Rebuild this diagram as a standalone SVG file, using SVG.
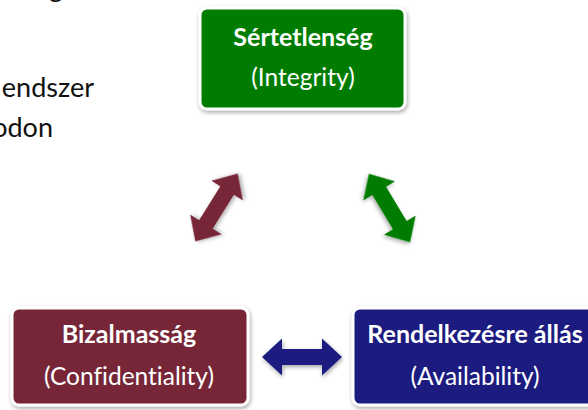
<svg xmlns="http://www.w3.org/2000/svg" width="588" height="410" viewBox="0 0 588 410">
  <defs>
    <filter id="shadow" x="-20%" y="-20%" width="140%" height="150%">
      <feDropShadow dx="1" dy="2" stdDeviation="2" flood-color="#000" flood-opacity="0.35"/>
    </filter>
    <path id="dblarrow" d="M-40,0 L-20,-18.5 L-20,-8 L20,-8 L20,-18.5 L40,0 L20,18.5 L20,8 L-20,8 L-20,18.5 Z"/>
    <style>
      text { font-variant-ligatures: none; font-family: Lato, "Open Sans", sans-serif; }
      .box { stroke: #ffffff; stroke-width: 3; filter: url(#shadow); }
      .title { font-weight: bold; font-size: 25px; fill: #ffffff; text-anchor: middle; }
      .sub { font-size: 24.5px; fill: #ffffff; text-anchor: middle; }
      .body { font-size: 27px; fill: #111111; text-anchor: end; }
      .arrow { filter: url(#shadow); }
    </style>
  </defs>
  <rect width="588" height="410" fill="#ffffff"/>

  <g id="slide-text">
    <text class="body" x="63" y="-3">g</text>
    <text class="body" x="94" y="97">endszer</text>
    <text class="body" x="53" y="137">odon</text>
  </g>

  <g id="connectors">
    <use href="#dblarrow" class="arrow" fill="#772539" transform="translate(216.5,207.5) rotate(-58)"/>
    <use href="#dblarrow" class="arrow" fill="#007d00" transform="translate(389.5,208) rotate(59)"/>
    <use href="#dblarrow" class="arrow" fill="#1a1f80" transform="translate(302,357)"/>
  </g>

  <g id="integrity">
    <rect class="box" x="200" y="8" width="205" height="101" rx="7" fill="#007d00"/>
    <text class="title" x="303" y="46">Sértetlenség</text>
    <text class="sub" x="303" y="86">(Integrity)</text>
  </g>

  <g id="confidentiality">
    <rect class="box" x="12" y="308" width="236" height="97" rx="7" fill="#772539"/>
    <text class="title" x="129" y="343">Bizalmasság</text>
    <text class="sub" x="129" y="385">(Confidentiality)</text>
  </g>

  <g id="availability">
    <rect class="box" x="353" y="308" width="245" height="97" rx="7" fill="#1a1f80"/>
    <text class="title" x="475" y="343">Rendelkezésre állás</text>
    <text class="sub" x="475" y="385">(Availability)</text>
  </g>
</svg>
